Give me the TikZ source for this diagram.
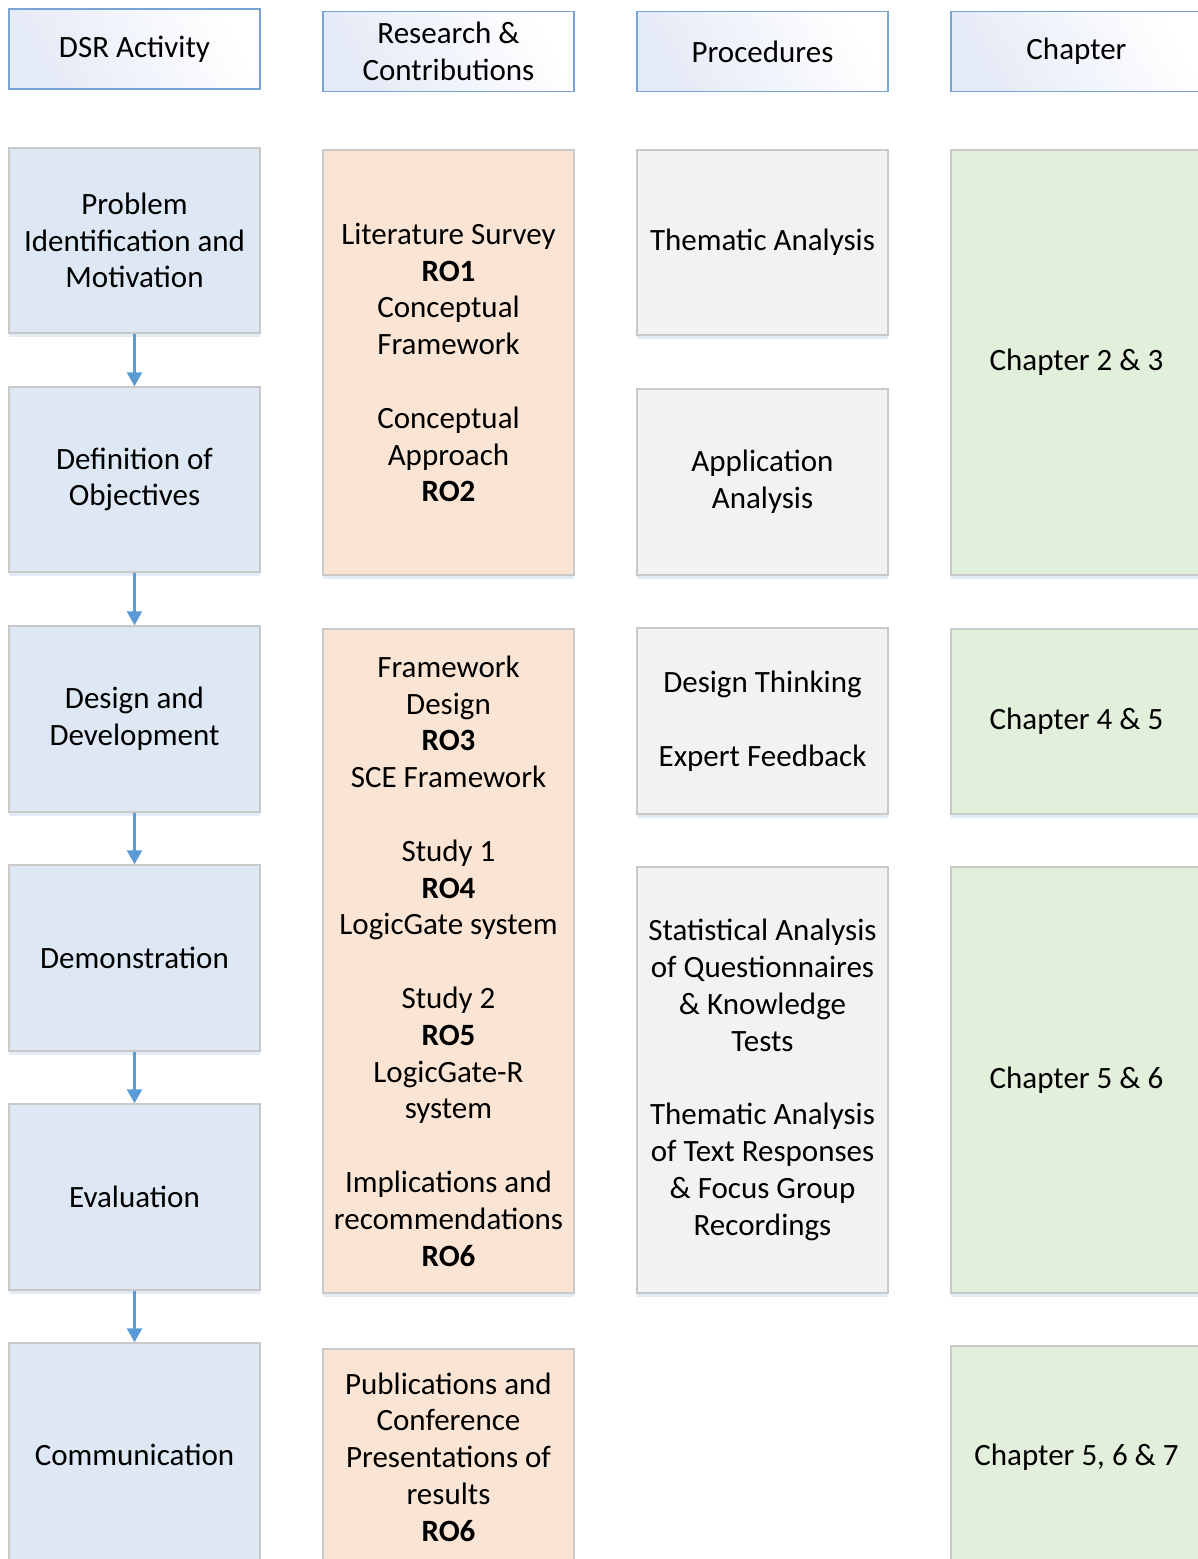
\documentclass[tikz,border=0pt]{standalone}
\usepackage{fontspec}
\setmainfont{Carlito}
\usetikzlibrary{arrows.meta,shadows}
\definecolor{hdrline}{HTML}{7AA3D6}
\definecolor{hdrfill}{HTML}{E4EAF6}
\definecolor{boxline}{HTML}{C9C9C9}
\definecolor{dsrfill}{HTML}{DEE8F4}
\definecolor{rofill}{HTML}{FAE5D4}
\definecolor{procfill}{HTML}{F2F2F2}
\definecolor{chapfill}{HTML}{E2EFDA}
\definecolor{arrowblue}{HTML}{5B9BD5}
\definecolor{glow}{HTML}{DCE6F2}
\tikzset{
  txt/.style={font=\fontsize{31}{36.8}\selectfont, align=center, text=black},
  hdr/.style={txt, draw=hdrline, line width=1.8pt, left color=white, right color=hdrfill,
    shading angle=-60, minimum width=251pt, minimum height=80pt, inner sep=0pt},
  card/.style={txt, draw=boxline, line width=1.4pt, minimum width=251pt, inner sep=0pt,
    drop shadow={shadow xshift=0pt, shadow yshift=-4pt, fill=glow, opacity=0.8}},
  dsr/.style={card, fill=dsrfill},
  ro/.style={card, fill=rofill},
  proc/.style={card, fill=procfill},
  chap/.style={card, fill=chapfill},
  flow/.style={draw=arrowblue, line width=2.4pt, -{Triangle[width=15pt,length=14pt]}}
}
\begin{document}
\begin{tikzpicture}[x=1pt,y=-1pt]
\path[use as bounding box] (0,0) rectangle (1198,1559);
\clip (0,0) rectangle (1198,1559);

% column headers
\node[hdr] (h1) at (134.5,49)   {DSR Activity};
\node[hdr] (h2) at (448.5,51.5) {Research \&\\Contributions};
\node[hdr] (h3) at (762.5,51.5) {Procedures};
\node[hdr] (h4) at (1076.5,51.5) {Chapter};

% DSR activities
\node[dsr, minimum height=185pt] (a1) at (134.5,240.5) {Problem\\Identification and\\Motivation};
\node[dsr, minimum height=185pt] (a2) at (134.5,479.5) {Definition of\\Objectives};
\node[dsr, minimum height=186pt] (a3) at (134.5,719)   {Design and\\Development};
\node[dsr, minimum height=186pt] (a4) at (134.5,958)   {Demonstration};
\node[dsr, minimum height=186pt] (a5) at (134.5,1197)  {Evaluation};
\node[dsr, minimum height=224pt] (a6) at (134.5,1455)  {Communication};

\draw[flow] (a1.south) -- (a2.north);
\draw[flow] (a2.south) -- (a3.north);
\draw[flow] (a3.south) -- (a4.north);
\draw[flow] (a4.south) -- (a5.north);
\draw[flow] (a5.south) -- (a6.north);

% research and contributions
\node[ro, minimum height=425pt] (r1) at (448.5,362.5)
  {Literature Survey\\\textbf{RO1}\\Conceptual\\Framework\\[36.8pt]Conceptual\\Approach\\\textbf{RO2}};
\node[ro, minimum height=664pt] (r2) at (448.5,961)
  {Framework\\Design\\\textbf{RO3}\\SCE Framework\\[36.8pt]Study 1\\\textbf{RO4}\\LogicGate system\\[36.8pt]Study 2\\\textbf{RO5}\\LogicGate-R\\system\\[36.8pt]Implications and\\recommendations\\\textbf{RO6}};
\node[ro, minimum height=216pt] (r3) at (448.5,1457)
  {Publications and\\Conference\\Presentations of\\results\\\textbf{RO6}};

% procedures
\node[proc, minimum height=185pt] (p1) at (762.5,242.5) {Thematic Analysis};
\node[proc, minimum height=186pt] (p2) at (762.5,482)   {Application\\Analysis};
\node[proc, minimum height=186pt] (p3) at (762.5,721)   {Design Thinking\\[36.8pt]Expert Feedback};
\node[proc, minimum height=426pt] (p4) at (762.5,1080)
  {Statistical Analysis\\of Questionnaires\\\& Knowledge\\Tests\\[36.8pt]Thematic Analysis\\of Text Responses\\\& Focus Group\\Recordings};

% chapters
\node[chap, minimum height=425pt] (c1) at (1076.5,362.5) {Chapter 2 \& 3};
\node[chap, minimum height=185pt] (c2) at (1076.5,721.5) {Chapter 4 \& 5};
\node[chap, minimum height=426pt] (c3) at (1076.5,1080)  {Chapter 5 \& 6};
\node[chap, minimum height=222pt] (c4) at (1076.5,1457)  {Chapter 5, 6 \& 7};
\end{tikzpicture}
\end{document}
